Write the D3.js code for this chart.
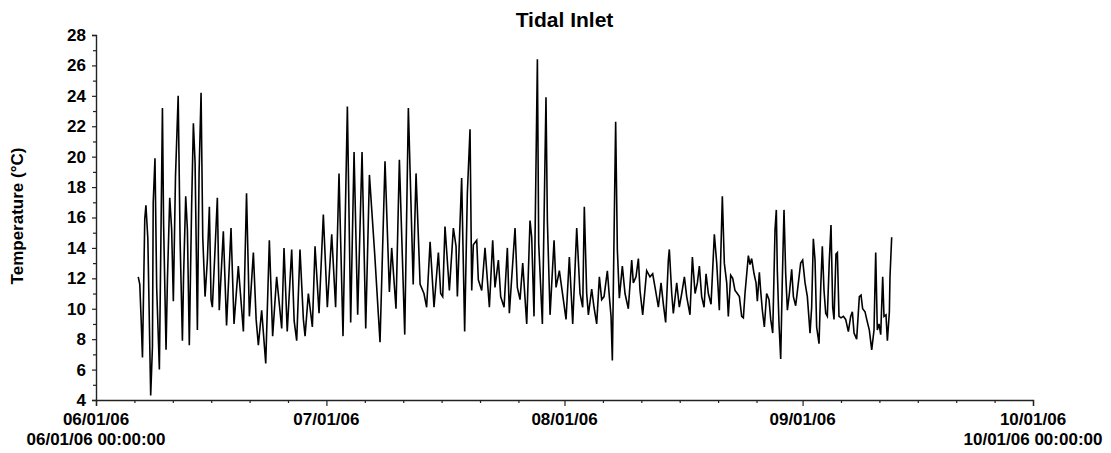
<!DOCTYPE html>
<html><head><meta charset="utf-8">
<script src="https://cdn.jsdelivr.net/npm/d3@7"></script>
<style>
body{margin:0;background:#fff}
text{font-family:"Liberation Sans",Arial,sans-serif;font-weight:bold;fill:#000}
</style>
</head><body>
<svg id="c" width="1111" height="453"></svg>
<script>
const title = "Tidal Inlet";
const yLabel = "Temperature (°C)";
const startDate = Date.UTC(2006,5,1);
const endDate = Date.UTC(2006,9,1);
// days since 06/01/06 00:00
const dayOffsets = [
5.50,5.70,5.90,6.05,6.35,6.50,6.75,7.12,7.35,7.45,7.68,7.90,8.25,8.45,8.65,8.80,9.12,9.30,9.60,9.85,
10.07,10.35,10.70,10.95,11.25,11.40,11.68,11.90,12.15,12.45,12.68,12.90,13.20,13.42,13.68,13.90,14.20,14.50,14.76,14.98,
15.15,15.50,15.80,16.05,16.58,17.00,17.58,17.97,18.53,19.19,19.60,19.97,20.49,20.85,21.14,21.57,22.10,22.57,23.00,23.52,
24.18,24.48,24.90,25.48,25.80,26.13,26.56,27.00,27.22,27.65,28.17,28.52,29.04,29.60,30.12,30.69,31.20,31.64,32.16,32.73,
33.16,33.60,34.07,34.64,35.12,35.60,36.30,36.98,37.63,38.20,38.50,39.06,39.50,40.20,40.67,41.30,41.67,42.20,42.70,43.05,
43.50,44.01,44.58,44.88,45.14,45.44,46.01,46.53,46.88,47.05,47.61,47.74,48.00,48.35,48.70,48.92,49.13,49.57,49.78,50.22,
50.65,51.22,51.65,51.95,52.39,52.69,53.13,53.56,53.82,54.56,54.86,55.21,55.56,56.08,56.51,56.73,57.03,57.47,57.64,58.12,
58.59,58.77,59.12,59.64,59.90,60.33,60.63,60.85,61.20,61.63,62.07,62.59,63.02,63.37,63.58,63.89,64.11,64.54,64.84,65.19,
65.54,65.84,66.15,66.58,66.84,67.06,67.23,67.45,67.66,67.88,68.14,68.53,68.88,69.31,69.75,69.96,70.31,70.62,70.83,71.18,
71.70,72.13,72.48,72.79,73.22,73.57,73.87,74.17,74.52,74.65,74.96,75.17,75.61,75.95,76.26,76.61,76.91,77.34,77.65,78.00,
78.30,78.56,78.86,79.17,79.43,79.73,80.08,80.51,80.82,81.16,81.55,81.81,82.12,82.33,82.64,82.90,83.20,83.50,83.77,84.07,
84.29,84.50,84.94,85.15,85.37,85.68,85.94,86.11,86.37,86.54,86.76,87.02,87.32,87.63,87.85,88.11,88.41,88.58,88.71,88.93,
89.15,89.36,89.58,89.80,90.02,90.28,90.58,90.80,91.10,91.45,91.75,92.01,92.32,92.62,92.97,93.18,93.40,93.62,93.83,94.14,
94.36,94.57,94.79,95.01,95.22,95.48,95.70,95.92,96.09,96.35,96.53,96.74,97.00,97.31,97.61,97.96,98.26,98.48,98.70,99.04,
99.39,99.61,99.82,100.13,100.35,100.69,101.00,101.30,101.52,101.73,101.95,102.17,102.43,102.60,102.86,103.04,103.30,103.38,103.60
];
const temps = [
12.1,11.6,9.0,6.8,15.9,16.8,14.6,4.3,7.5,17.0,19.9,11.4,6.0,14.5,23.2,15.6,7.3,11.9,17.3,15.2,
10.5,18.7,24.0,14.5,7.9,12.1,17.4,15.2,7.6,16.7,22.2,19.6,8.6,18.9,24.2,14.7,10.8,13.2,16.7,10.6,
10.1,13.9,17.3,9.9,15.1,8.9,15.3,9.0,12.8,8.5,17.6,9.5,13.7,9.3,7.6,9.9,6.4,14.5,8.2,12.1,
8.7,14.0,8.5,13.9,9.2,7.9,13.9,9.3,8.2,11.0,8.8,14.1,9.7,16.2,10.1,14.9,10.1,18.9,8.2,23.3,
9.1,20.3,9.6,20.3,8.7,18.8,13.5,7.8,19.7,11.1,14.0,10.0,19.8,8.3,23.2,11.6,18.9,11.6,11.0,10.1,
14.4,10.1,13.7,11.0,10.8,15.4,11.2,15.3,14.1,10.8,18.6,15.2,8.5,17.6,21.8,11.2,14.2,14.5,11.9,11.2,
14.0,10.1,14.5,11.4,13.2,10.8,10.1,14.0,9.7,15.3,11.4,10.6,13.0,9.0,15.8,14.7,9.5,26.4,14.3,9.0,
23.9,15.8,9.6,14.5,11.4,12.5,11.4,10.6,9.3,13.4,9.0,15.3,11.0,10.1,16.7,11.0,9.6,11.3,10.1,9.0,
12.1,10.6,10.8,12.5,10.8,9.5,6.6,14.7,22.3,13.9,10.7,12.8,11.0,10.0,13.2,11.7,12.1,13.3,11.2,9.6,
12.5,12.1,12.3,11.4,10.1,11.7,10.3,9.1,13.2,13.9,11.0,9.7,11.7,10.1,11.0,12.1,10.8,9.6,13.4,11.0,
11.7,12.8,10.8,10.1,12.3,11.0,10.3,14.9,13.0,9.9,17.4,13.0,11.7,9.5,12.2,12.0,11.2,11.0,10.8,9.5,
9.4,11.0,13.5,12.9,13.3,12.3,11.7,10.5,12.4,11.2,9.9,8.8,11.0,10.6,9.3,8.4,15.2,16.5,12.5,9.0,
6.7,11.9,16.5,12.3,9.9,11.0,12.6,10.8,10.2,11.7,13.0,13.2,11.7,10.8,8.4,10.1,14.6,13.2,8.8,7.7,
11.4,14.1,11.2,9.7,9.5,13.2,15.5,10.1,9.3,13.6,13.7,9.5,9.4,9.5,9.3,8.5,9.5,9.8,8.4,8.0,
10.8,10.9,10.0,9.8,9.3,8.6,7.3,8.6,13.7,8.6,9.0,8.3,12.1,9.5,9.6,7.9,9.8,12.1,14.7
];
const yMajorTicks = [4,6,8,10,12,14,16,18,20,22,24,26,28];
const yMinorTicks = [5,7,9,11,13,15,17,19,21,23,25,27];
const monthTicks = [Date.UTC(2006,5,1),Date.UTC(2006,6,1),Date.UTC(2006,7,1),Date.UTC(2006,8,1),Date.UTC(2006,9,1)];
const monthLabels = ["06/01/06","07/01/06","08/01/06","09/01/06","10/01/06"];
const minorTickDaysOfMonth = [6,11,16,21,26];
const endLabels = ["06/01/06 00:00:00","10/01/06 00:00:00"];

const svg = d3.select("#c");
const x = d3.scaleUtc().domain([startDate,endDate]).range([96,1033]);
const y = d3.scaleLinear().domain([4,28]).range([400,35]);

const minorX = [];
for (const m of [5,6,7,8]) for (const d of minorTickDaysOfMonth) minorX.push(Date.UTC(2006,m,d));

// y axis
const ya = svg.append("g").attr("transform","translate(96,0)")
  .call(d3.axisLeft(y).tickValues(yMajorTicks).tickSize(4).tickPadding(6).tickFormat(d3.format("d")));
ya.selectAll("text").style("font-size","17px");
svg.append("g").attr("transform","translate(96,0)")
  .call(d3.axisLeft(y).tickValues(yMinorTicks).tickSize(3).tickFormat(""))
  .select(".domain").remove();

// x axis
svg.append("g").attr("transform","translate(0,400)")
  .call(d3.axisBottom(x).tickValues(monthTicks).tickSize(6).tickFormat(""));
svg.append("g").attr("transform","translate(0,400)")
  .call(d3.axisBottom(x).tickValues(minorX).tickSize(3).tickFormat(""))
  .select(".domain").remove();
svg.selectAll(".domain").attr("stroke","#222").attr("stroke-width",1.4);
svg.selectAll(".tick line").attr("stroke","#222").attr("stroke-width",1.2);

svg.append("g").selectAll("text").data(monthTicks).join("text")
  .attr("x",d=>x(d)).attr("y",425).attr("text-anchor","middle").style("font-size","17px")
  .text((d,i)=>monthLabels[i]);
svg.append("g").selectAll("text").data([monthTicks[0],monthTicks[monthTicks.length-1]]).join("text")
  .attr("x",d=>x(d)).attr("y",445).attr("text-anchor","middle").style("font-size","17px")
  .text((d,i)=>endLabels[i]);

// title & y label
svg.append("text").attr("x",(96+1033)/2).attr("y",27).attr("text-anchor","middle")
  .style("font-size","21px").text(title);
svg.append("text").attr("transform","translate(23,216) rotate(-90)").attr("text-anchor","middle")
  .style("font-size","17px").text(yLabel);

// line
const pts = dayOffsets.map((d,i)=>({t:startDate+d*86400000, v:temps[i]}));
svg.append("path").datum(pts)
  .attr("fill","none").attr("stroke","#000").attr("stroke-width",1.6).attr("stroke-linejoin","miter")
  .attr("d",d3.line().x(p=>x(p.t)).y(p=>y(p.v)));
</script>
</body></html>
